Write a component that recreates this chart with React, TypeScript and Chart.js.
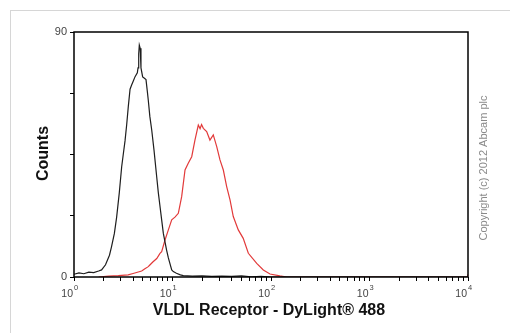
import React, { useEffect, useRef } from 'react';
import { Chart, registerables } from 'chart.js';

Chart.register(...registerables);

// Isotype / unstained control (black)
const blackX = [
  1, 1.122, 1.259, 1.413, 1.585, 1.778, 1.905, 2.089, 2.291, 2.399, 2.57, 2.71, 2.884, 3.048,
  3.162, 3.296, 3.428, 3.556, 3.707, 3.846, 4.0, 4.169, 4.395, 4.467, 4.539, 4.603, 4.699,
  4.786, 4.977, 5.188, 5.383, 5.559, 5.675, 5.888, 6.152, 6.486, 6.902, 7.178, 7.464, 7.762,
  8.072, 8.71, 9.078, 9.817, 10.19, 10.96, 12.02, 12.88, 15.85, 19.95, 25.12, 31.62, 39.81,
  50.12, 63.1, 79.43, 100, 10000,
];
const blackCounts = [
  1.0, 1.5, 1.2, 1.8, 1.6, 2.2, 2.6, 4.5, 8, 11, 16, 22, 31, 40.5,
  45, 50, 56, 62.5, 69, 70.5, 72, 73.6, 75, 76.8, 82, 85.2, 84,
  76.8, 73.5, 73, 72.5, 68, 65, 59, 54, 46.7, 37, 31, 26, 21,
  16, 9.9, 7, 2.6, 2, 1.4, 0.8, 0.5, 0.3, 0.4, 0.2, 0.3, 0.2,
  0.4, 0.1, 0.2, 0, 0,
];

// VLDL Receptor - DyLight 488 stained (red)
const redX = [
  1.778, 2.239, 2.818, 3.548, 3.981, 4.864, 5.248, 5.675, 5.888, 6.31, 6.918, 7.464, 7.762,
  8.395, 9.078, 9.817, 10.59, 11.46, 12.39, 13.4, 14.45, 15.67, 16.9, 18.28, 19.05, 19.72,
  20.56, 22.23, 23.99, 25.94, 28.12, 30.34, 32.81, 35.48, 38.37, 41.4, 46.56, 52.24, 58.88,
  71.61, 83.56, 97.72, 123, 144.5, 9900, 10000,
];
const redCounts = [
  0, 0.3, 0.5, 0.8, 1.3, 2.2, 3, 3.8, 4.4, 5.5, 6.8, 8.7, 9.3,
  13.6, 17.3, 21, 22, 23.4, 29.5, 39.3, 41.8, 44.2, 50.3, 55.8, 54.5, 56,
  54.6, 53.4, 50.3, 52.2, 47.9, 43, 39.3, 33.2, 28.3, 22.2, 17.3, 14.2, 8.7,
  5, 2.6, 1.1, 0.4, 0, 0, 1,
];

const xMajorExponents = [0, 1, 2, 3, 4];
const xMinorMultipliers = [2, 3, 4, 5, 6, 7, 8, 9];
const yTickValues = [0, 22.5, 45, 67.5, 90];
const yTickLabels = [0, 90];
const xTitle = 'VLDL Receptor - DyLight® 488';
const yTitle = 'Counts';
const copyrightText = 'Copyright (c) 2012 Abcam plc';

const FONT = '"Liberation Sans", Arial, Helvetica, sans-serif';

const xTickValues: number[] = [];
xMajorExponents.forEach((e, i) => {
  const base = Math.pow(10, e);
  xTickValues.push(base);
  if (i < xMajorExponents.length - 1) xMinorMultipliers.forEach((m) => xTickValues.push(base * m));
});

const decorPlugin = {
  id: 'decor',
  afterDraw(chart: any) {
    const { ctx, chartArea: a, scales } = chart;
    ctx.save();
    // frame
    ctx.strokeStyle = '#000';
    ctx.lineWidth = 1.5;
    ctx.strokeRect(a.left, a.top, a.right - a.left, a.bottom - a.top);

    // x tick labels 10^n
    ctx.fillStyle = '#444';
    ctx.textBaseline = 'alphabetic';
    for (const e of xMajorExponents) {
      const px = scales.x.getPixelForValue(Math.pow(10, e));
      ctx.font = `10.5px ${FONT}`;
      ctx.textAlign = 'right';
      ctx.fillText('10', px - 1, 297);
      ctx.font = `7.5px ${FONT}`;
      ctx.textAlign = 'left';
      ctx.fillText(String(e), px, 290);
    }

    // axis titles
    ctx.fillStyle = '#111';
    ctx.font = `bold 16px ${FONT}`;
    ctx.textAlign = 'center';
    ctx.textBaseline = 'middle';
    ctx.fillText(xTitle, (a.left + a.right) / 2 - 2, 311);

    ctx.save();
    ctx.translate(44, (a.top + a.bottom) / 2 - 1);
    ctx.rotate(-Math.PI / 2);
    ctx.fillText(yTitle, 0, 0);
    ctx.restore();

    // copyright
    ctx.save();
    ctx.fillStyle = '#8a8a8a';
    ctx.font = `11px ${FONT}`;
    ctx.translate(484, 168);
    ctx.rotate(-Math.PI / 2);
    ctx.fillText(copyrightText, 0, 0);
    ctx.restore();

    ctx.restore();
  },
};

export default function App() {
  const canvasRef = useRef<HTMLCanvasElement | null>(null);

  useEffect(() => {
    const canvas = canvasRef.current;
    if (!canvas) return;
    const chart = new Chart(canvas, {
      type: 'line',
      data: {
        datasets: [
          {
            label: 'Control',
            data: blackX.map((x, i) => ({ x, y: blackCounts[i] })),
            borderColor: '#1e1e1e',
            borderWidth: 1.2,
            pointRadius: 0,
            tension: 0,
            fill: false,
          },
          {
            label: 'VLDL Receptor',
            data: redX.map((x, i) => ({ x, y: redCounts[i] })),
            borderColor: '#e23a3a',
            borderWidth: 1.2,
            pointRadius: 0,
            tension: 0,
            fill: false,
          },
        ],
      },
      options: {
        animation: false,
        responsive: false,
        devicePixelRatio: 1,
        layout: { padding: { left: 0, top: 32, right: 42, bottom: 0 } },
        plugins: {
          legend: { display: false },
          tooltip: { enabled: false },
        },
        scales: {
          x: {
            type: 'logarithmic',
            min: 1,
            max: 10000,
            afterBuildTicks: (s: any) => {
              s.ticks = xTickValues.map((v) => ({ value: v }));
            },
            ticks: { display: false, autoSkip: false },
            grid: {
              drawOnChartArea: false,
              drawTicks: true,
              tickLength: 4,
              color: '#000',
              tickColor: '#000',
              lineWidth: 1,
            },
            border: { display: false },
            afterFit: (s: any) => {
              s.height = 56;
            },
          },
          y: {
            type: 'linear',
            min: 0,
            max: 90,
            afterBuildTicks: (s: any) => {
              s.ticks = yTickValues.map((v) => ({ value: v }));
            },
            ticks: {
              autoSkip: false,
              padding: 3,
              color: '#444',
              font: { family: FONT, size: 11 },
              callback: (v: any) => (yTickLabels.includes(Number(v)) ? String(v) : ''),
            },
            grid: {
              drawOnChartArea: false,
              drawTicks: true,
              tickLength: 4,
              color: '#000',
              tickColor: '#000',
              lineWidth: 1,
            },
            border: { display: false },
            afterFit: (s: any) => {
              s.width = 74;
            },
          },
        },
      },
      plugins: [decorPlugin],
    });
    return () => chart.destroy();
  }, []);

  return (
    <div
      style={{
        position: 'fixed',
        left: 0,
        top: 0,
        width: 510,
        height: 333,
        background: '#fff',
        overflow: 'hidden',
      }}
    >
      <div
        style={{
          position: 'absolute',
          left: 10,
          top: 10,
          width: 600,
          height: 400,
          borderLeft: '1px solid #d6d6d6',
          borderTop: '1px solid #d6d6d6',
        }}
      />
      <canvas
        ref={canvasRef}
        width={510}
        height={333}
        style={{ position: 'absolute', left: 0, top: 0, width: 510, height: 333 }}
      />
    </div>
  );
}
